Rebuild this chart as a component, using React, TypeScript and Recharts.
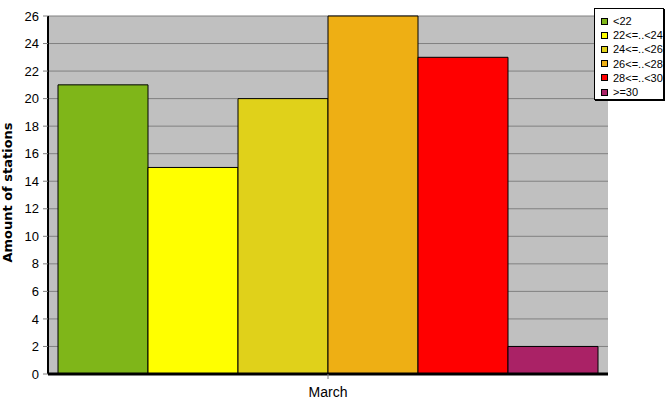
import React from "react";
import { BarChart, Bar, XAxis, YAxis, CartesianGrid } from "recharts";

const categories = ["March"];
const seriesNames = ["<22", "22<=..<24", "24<=..<26", "26<=..<28", "28<=..<30", ">=30"];
const valuesLt22 = [21];
const values22to24 = [15];
const values24to26 = [20];
const values26to28 = [26];
const values28to30 = [23];
const valuesGe30 = [2];
const seriesColors = ["#7FB619", "#FFFF00", "#E0D11A", "#EEAF14", "#FF0000", "#AA2266"];
const yTicks = [0, 2, 4, 6, 8, 10, 12, 14, 16, 18, 20, 22, 24, 26];
const yMinorTicks = [
  0, 0.5, 1, 1.5, 2, 2.5, 3, 3.5, 4, 4.5, 5, 5.5, 6, 6.5, 7, 7.5, 8, 8.5, 9, 9.5,
  10, 10.5, 11, 11.5, 12, 12.5, 13, 13.5, 14, 14.5, 15, 15.5, 16, 16.5, 17, 17.5,
  18, 18.5, 19, 19.5, 20, 20.5, 21, 21.5, 22, 22.5, 23, 23.5, 24, 24.5, 25, 25.5, 26,
];
const yLabel = "Amount of stations";

const seriesValues = [valuesLt22, values22to24, values24to26, values26to28, values28to30, valuesGe30];

const data = categories.map((c, i) => {
  const row: Record<string, any> = { category: c };
  seriesValues.forEach((vals, j) => {
    row[`s${j}`] = vals[i];
  });
  return row;
});

const FONT = "'Liberation Sans', Arial, sans-serif";

export default function App() {
  return (
    <div style={{ position: "absolute", left: 0, top: 0, width: 667, height: 415, background: "#fff" }}>
      <BarChart
        width={667}
        height={415}
        data={data}
        margin={{ top: 16, right: 59, bottom: 0, left: 0 }}
        barGap={0}
        barCategoryGap={10}
      >
        <CartesianGrid vertical={false} fill="#C0C0C0" stroke="#808080" strokeWidth={1} fillOpacity={1} />
        {seriesNames.map((name, j) => (
          <Bar
            key={name}
            dataKey={`s${j}`}
            name={name}
            fill={seriesColors[j]}
            stroke="#000"
            strokeWidth={1}
            isAnimationActive={false}
          />
        ))}
        <YAxis
          yAxisId="minor"
          orientation="left"
          width={0}
          domain={[0, 26]}
          ticks={yMinorTicks}
          interval={0}
          axisLine={false}
          tick={() => <g />}
          tickSize={2}
          tickLine={{ stroke: "#404040" }}
        />
        <YAxis
          domain={[0, 26]}
          ticks={yTicks}
          interval={0}
          width={48}
          tickSize={5}
          tickMargin={4}
          axisLine={{ stroke: "#000", strokeWidth: 2 }}
          tickLine={{ stroke: "#808080" }}
          tick={{ fill: "#000", fontSize: 13, fontFamily: FONT }}
          label={() => (
            <text
              x={12}
              y={192.5}
              transform="rotate(-90 12 192.5)"
              textAnchor="middle"
              fontFamily="'DejaVu Sans', sans-serif"
              fontWeight="bold"
              fontSize={13}
              fill="#000"
            >
              {yLabel}
            </text>
          )}
        />
        <YAxis
          yAxisId="right"
          orientation="right"
          width={0}
          domain={[0, 26]}
          axisLine={{ stroke: "#000", strokeWidth: 2 }}
          tick={false}
          tickLine={false}
        />
        <XAxis
          xAxisId="top"
          orientation="top"
          dataKey="category"
          height={0}
          axisLine={{ stroke: "#000", strokeWidth: 2 }}
          tick={false}
          tickLine={false}
        />
        <XAxis
          dataKey="category"
          height={41}
          tickSize={5}
          tickMargin={8}
          axisLine={{ stroke: "#000", strokeWidth: 3 }}
          tickLine={{ stroke: "#808080" }}
          tick={{ fill: "#000", fontSize: 14, fontFamily: FONT }}
        />
      </BarChart>
      <div
        style={{
          position: "absolute",
          left: 594,
          top: 8,
          width: 70,
          height: 92,
          boxSizing: "border-box",
          border: "1px solid #000",
          boxShadow: "1px 1px 0 #000",
          background: "#fff",
          fontFamily: FONT,
          fontSize: 11,
          color: "#000",
        }}
      >
        {seriesNames.map((name, j) => (
          <div
            key={name}
            style={{
              position: "absolute",
              left: 6,
              top: 5 + j * 14.2,
              height: 14,
              display: "flex",
              alignItems: "center",
              whiteSpace: "nowrap",
            }}
          >
            <span
              style={{
                display: "inline-block",
                width: 7,
                height: 7,
                boxSizing: "border-box",
                border: "1px solid #000",
                background: seriesColors[j],
                marginRight: 5,
              }}
            />
            <span>{name}</span>
          </div>
        ))}
      </div>
    </div>
  );
}
